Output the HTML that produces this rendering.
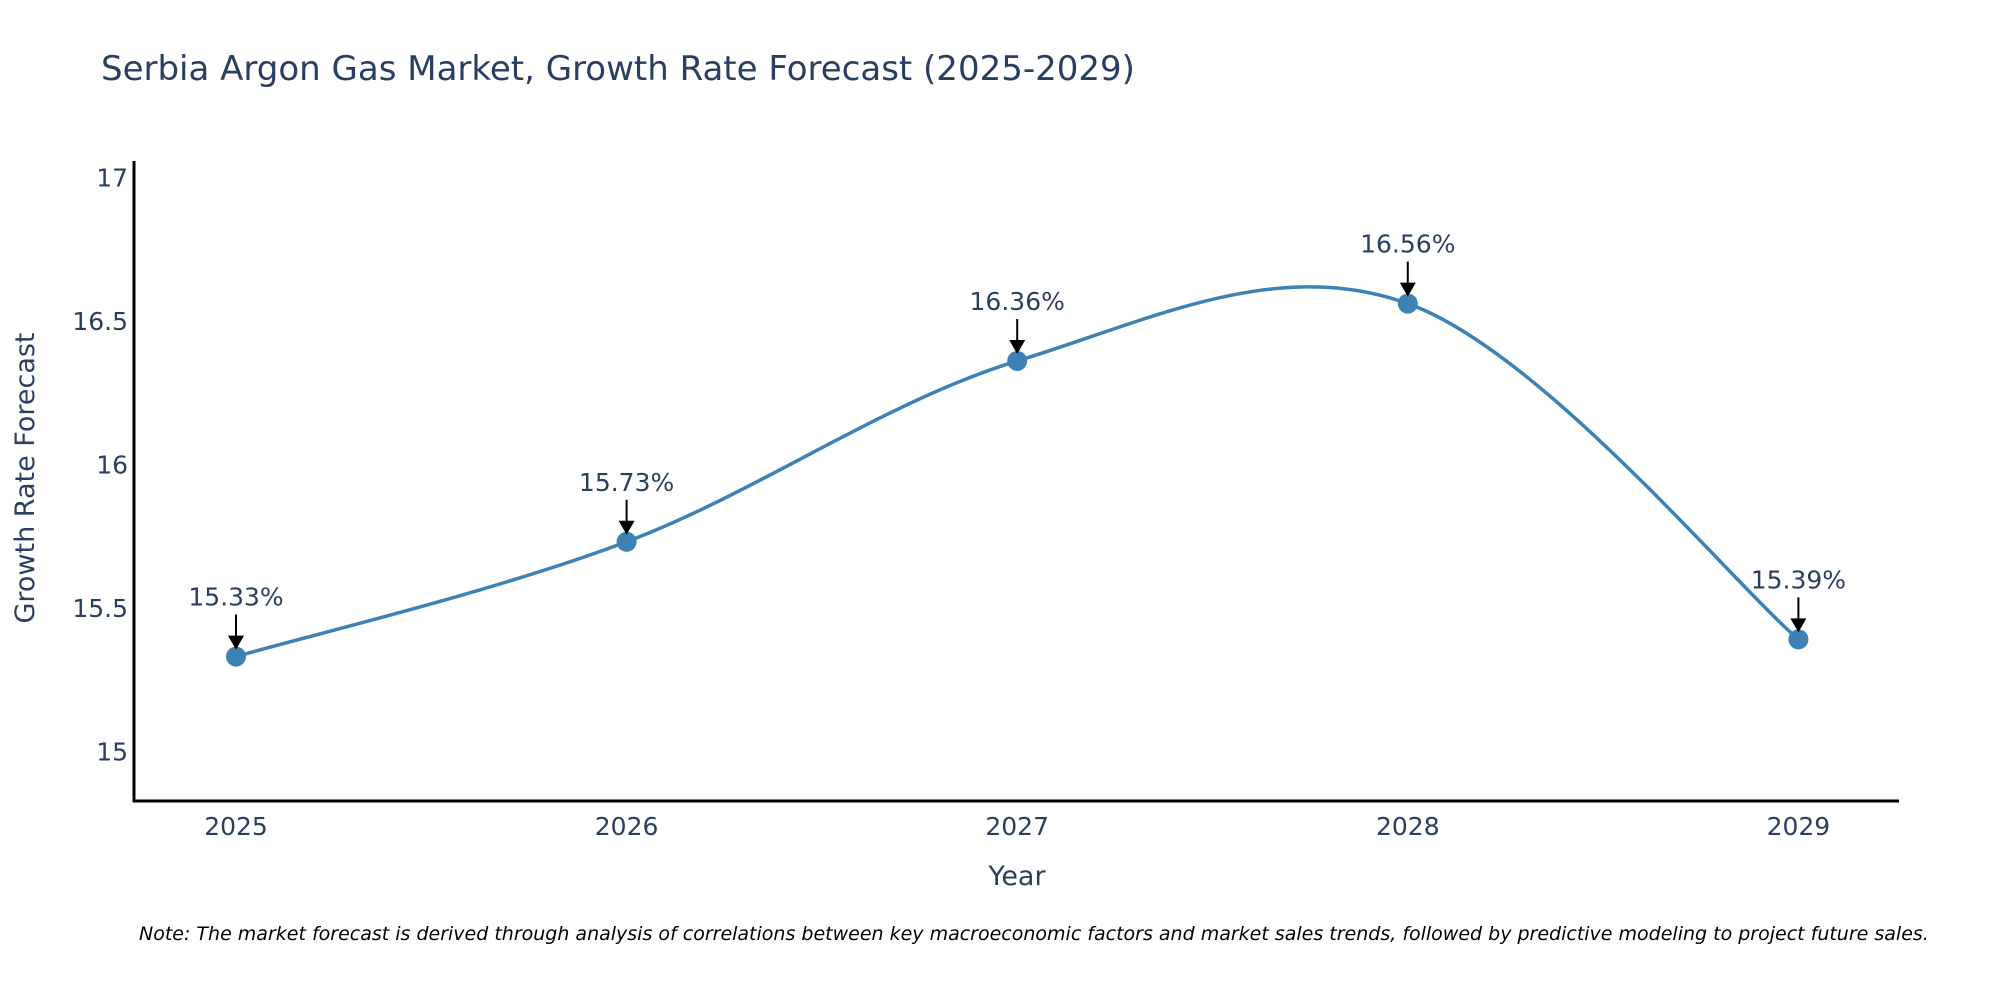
<!DOCTYPE html>
<html><head><meta charset="utf-8"><style>
body{margin:0;background:#fff;}
svg{display:block;font-family:"DejaVu Sans","Liberation Sans",sans-serif;}
</style></head><body>
<svg id="chart" width="2000" height="1000" viewBox="0 0 2000 1000">
<text x="101" y="80" font-size="34" fill="#2a3f5f">Serbia Argon Gas Market, Growth Rate Forecast (2025-2029)</text>
<g id="yticks"></g>
<g id="xticks"></g>
<path id="line" fill="none" stroke="#3d81b5" stroke-width="3.5"/>
<g id="points"></g>
<g id="annots"></g>
<line x1="134" y1="161" x2="134" y2="802" stroke="#000" stroke-width="3"/>
<line x1="133" y1="801" x2="1899" y2="801" stroke="#000" stroke-width="3"/>
<text x="34" y="478" font-size="27" fill="#2a3f5f" text-anchor="middle" transform="rotate(-90 34 478)">Growth Rate Forecast</text>
<text x="1017" y="885" font-size="27" fill="#2a3f5f" text-anchor="middle">Year</text>
<text x="139" y="940" font-size="19" font-style="italic" fill="#000">Note: The market forecast is derived through analysis of correlations between key macroeconomic factors and market sales trends, followed by predictive modeling to project future sales.</text>
</svg>
<script>
const years = [2025, 2026, 2027, 2028, 2029];
const values = [15.33, 15.73, 16.36, 16.56, 15.39];
const labels = ["15.33%", "15.73%", "16.36%", "16.56%", "15.39%"];
const yTicks = [15, 15.5, 16, 16.5, 17];
const NS = "http://www.w3.org/2000/svg";
function xs(v){ return 236 + (v - 2025) * 390.6; }
function ys(v){ return 751.3 - (v - 15) * 287; }
function mk(tag, attrs, parent){ const e=document.createElementNS(NS,tag); for(const k in attrs) e.setAttribute(k, attrs[k]); parent.appendChild(e); return e; }
const yg=document.getElementById('yticks');
yTicks.forEach(t=>{
  const e=mk('text',{x:128,y:ys(t)+9,'font-size':25,fill:'#2a3f5f','text-anchor':'end'},yg);
  
  
  e.textContent=String(t);
});
const xg=document.getElementById('xticks');
years.forEach(y=>{
  const e=mk('text',{x:xs(y),y:835,'font-size':25,fill:'#2a3f5f','text-anchor':'middle'},xg);
  
  
  e.textContent=String(y);
});
const P=years.map((y,i)=>[xs(y),ys(values[i])]);
let d='M'+P[0][0]+','+P[0][1];
const k=0.17;
for(let i=0;i<P.length-1;i++){
  const p0=P[Math.max(0,i-1)],p1=P[i],p2=P[i+1],p3=P[Math.min(P.length-1,i+2)];
  const c1=[p1[0]+(p2[0]-p0[0])*k,p1[1]+(p2[1]-p0[1])*k];
  const c2=[p2[0]-(p3[0]-p1[0])*k,p2[1]-(p3[1]-p1[1])*k];
  d+=` C${c1[0]},${c1[1]} ${c2[0]},${c2[1]} ${p2[0]},${p2[1]}`;
}
document.getElementById('line').setAttribute('d',d);
const pg=document.getElementById('points'), ag=document.getElementById('annots');
P.forEach((p,i)=>{
  const c=mk('circle',{cx:p[0],cy:p[1],r:10,fill:'#3d81b5'},pg);
  
  
  const l=mk('line',{x1:p[0],y1:p[1]-42,x2:p[0],y2:p[1]-20,stroke:'#000','stroke-width':2},ag);
  
  
  const h=mk('polygon',{points:`${p[0]-8},${p[1]-21} ${p[0]+8},${p[1]-21} ${p[0]},${p[1]-7}`,fill:'#000'},ag);
  
  
  const t=mk('text',{x:p[0],y:p[1]-51,'font-size':25,fill:'#2a3f5f','text-anchor':'middle'},ag);
  
  
  t.textContent=labels[i];
});
</script>
</body></html>
